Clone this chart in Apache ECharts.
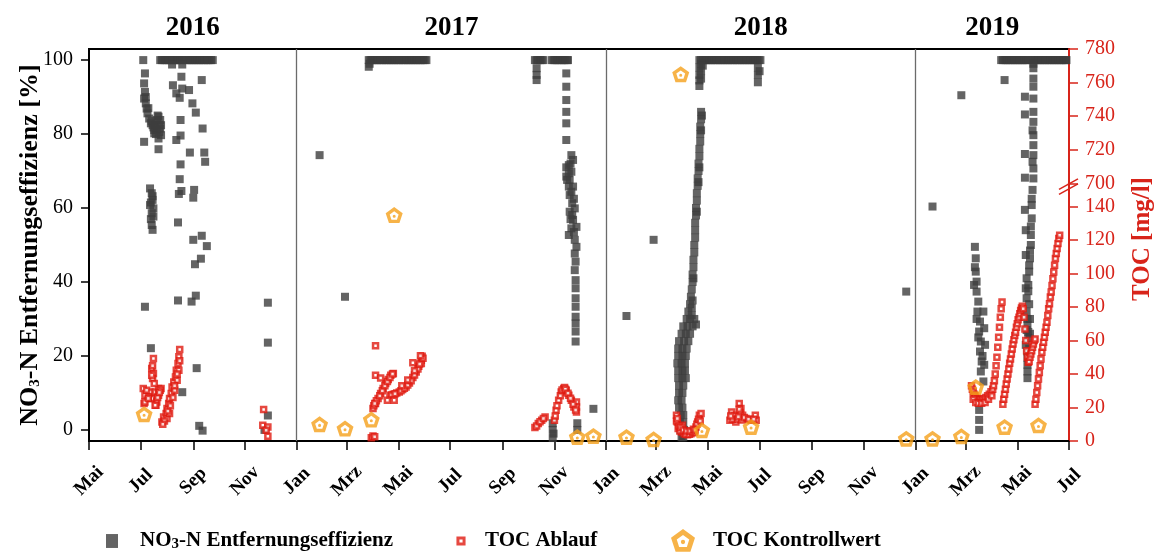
<!DOCTYPE html>
<html><head><meta charset="utf-8">
<script src="https://cdn.jsdelivr.net/npm/echarts@6/dist/echarts.min.js"></script>
<style>html,body{margin:0;padding:0;background:#fff}#c{width:1159px;height:556px}</style>
</head><body><div id="c"></div>
<script>
// ---------- tick labels / categories ----------
const xTickDates = ['2016-05-01','2016-07-01','2016-09-01','2016-11-01','2017-01-01','2017-03-01','2017-05-01','2017-07-01','2017-09-01','2017-11-01','2018-01-01','2018-03-01','2018-05-01','2018-07-01','2018-09-01','2018-11-01','2019-01-01','2019-03-01','2019-05-01','2019-07-01'];
const xTickLabels = ['Mai','Jul','Sep','Nov','Jan','Mrz','Mai','Jul','Sep','Nov','Jan','Mrz','Mai','Jul','Sep','Nov','Jan','Mrz','Mai','Jul'];
const leftTicks = [0,20,40,60,80,100];
const tocLowTicks = [0,20,40,60,80,100,120,140];
const tocHighTicks = [700,720,740,760,780];
const yearLabels = ['2016','2017','2018','2019'];
const yearSpans = [['2016-05-01','2017-01-01'],['2017-01-01','2018-01-01'],['2018-01-01','2019-01-01'],['2019-01-01','2019-07-01']];
const yearSeparators = ['2017-01-01','2018-01-01','2019-01-01'];
const NAME_NO3 = 'NO3-N Entfernungseffizienz';
const NAME_TOC = 'TOC Ablauf';
const NAME_KW = 'TOC Kontrollwert';

// ---------- NO3-N Entfernungseffizienz [%] ----------
const no3 = [
['2016-07-04',100],
['2016-07-24',100],['2016-07-26',100],['2016-07-28',100],['2016-07-30',100],['2016-08-01',100],['2016-08-03',100],['2016-08-05',100],['2016-08-07',100],['2016-08-09',100],['2016-08-11',100],['2016-08-13',100],['2016-08-15',100],['2016-08-17',100],['2016-08-19',100],
['2016-08-23',100],['2016-08-25',100],['2016-08-27',100],['2016-08-29',100],['2016-08-31',100],['2016-09-02',100],['2016-09-04',100],['2016-09-06',100],['2016-09-08',100],['2016-09-10',100],['2016-09-12',100],['2016-09-14',100],['2016-09-16',100],['2016-09-18',100],['2016-09-20',100],['2016-09-22',100],['2016-09-24',100],
['2016-08-07',98.8],['2016-08-19',98.8],
['2016-07-06',96.4],['2016-08-18',95.5],['2016-09-11',94.6],['2016-08-08',93.2],['2016-08-19',92.3],['2016-08-27',91.9],['2016-08-12',91],['2016-08-16',89.8],['2016-08-31',88.3],['2016-09-04',85.8],['2016-08-17',83.8],['2016-09-12',81.5],['2016-08-17',79.6],['2016-08-12',78.4],['2016-07-05',77.9],['2016-08-28',75],['2016-09-14',75],['2016-09-15',72.5],['2016-08-17',71.8],['2016-08-16',67.8],['2016-08-18',64.6],['2016-08-15',63.8],['2016-09-02',64.9],['2016-09-01',62.8],['2016-08-14',56.1],['2016-09-11',52.5],['2016-09-01',51.4],['2016-09-17',49.7],['2016-09-10',46.3],['2016-09-03',44.8],['2016-07-06',33.3],['2016-08-14',35],['2016-09-04',36.3],['2016-08-30',34.7],['2016-07-13',22.1],['2016-09-05',16.7],['2016-08-19',10.2],['2016-09-08',1.1],['2016-09-12',-0.2],
['2016-07-05',93.7],['2016-07-06',91.4],['2016-07-05',89.6],['2016-07-07',88.3],['2016-07-08',86.9],['2016-07-09',85.6],['2016-07-11',84.2],['2016-07-13',82.9],['2016-07-15',82.4],['2016-07-17',81.1],['2016-07-18',82.4],['2016-07-20',83.8],['2016-07-22',84.7],['2016-07-24',83.8],['2016-07-25',82.4],['2016-07-23',80.6],['2016-07-20',81.1],['2016-07-22',78.8],['2016-07-22',75.9],['2016-07-17',80.2],['2016-07-25',79.7],['2016-07-14',83.5],['2016-07-19',80],['2016-07-23',82.5],['2016-07-21',85],['2016-07-24',81.5],['2016-07-16',81.8],['2016-07-07',90],['2016-07-10',87],
['2016-07-12',65.3],['2016-07-14',64],['2016-07-15',62.2],['2016-07-12',60.8],['2016-07-16',59.9],['2016-07-14',58.6],['2016-07-16',57.7],['2016-07-14',55.4],['2016-07-15',54.1],['2016-07-13',61.5],['2016-07-15',63.2],['2016-07-13',57],
['2016-11-28',34.4],['2016-11-28',23.6],['2016-11-28',3.9],['2016-11-24',0],
['2017-01-28',74.3],['2017-02-27',36],
['2017-03-27',100],['2017-03-29',100],['2017-03-31',100],['2017-04-02',100],['2017-04-04',100],['2017-04-06',100],['2017-04-08',100],['2017-04-10',100],['2017-04-12',100],['2017-04-14',100],['2017-04-16',100],['2017-04-18',100],['2017-04-20',100],['2017-04-22',100],['2017-04-24',100],['2017-04-26',100],['2017-04-28',100],['2017-04-30',100],
['2017-05-02',100],['2017-05-04',100],['2017-05-06',100],['2017-05-08',100],['2017-05-10',100],['2017-05-12',100],['2017-05-14',100],['2017-05-16',100],['2017-05-18',100],['2017-05-20',100],['2017-05-22',100],['2017-05-24',100],['2017-05-26',100],['2017-05-28',100],['2017-05-30',100],['2017-06-01',100],['2017-06-03',100],
['2017-03-27',98.2],['2017-03-28',99],
['2017-10-09',100],['2017-10-11',100],['2017-10-13',100],['2017-10-15',100],['2017-10-17',100],['2017-10-19',100],
['2017-10-29',100],['2017-10-31',100],['2017-11-02',100],['2017-11-04',100],['2017-11-06',100],['2017-11-08',100],['2017-11-10',100],['2017-11-12',100],['2017-11-14',100],['2017-11-16',100],['2017-11-17',100],
['2017-10-11',97.8],['2017-10-11',96],['2017-10-11',94.6],
['2017-11-15',96.4],['2017-11-15',92.8],['2017-11-15',89.2],['2017-11-15',86],['2017-11-15',82.9],['2017-11-15',78.4],
['2017-11-21',74.3],['2017-11-18',71.6],['2017-11-21',69.8],['2017-11-19',67.6],['2017-11-23',65.8],['2017-11-19',63.5],['2017-11-22',61.3],['2017-11-19',59],['2017-11-23',56.8],['2017-11-21',54.5],['2017-11-18',52.7],['2017-11-25',51.4],['2017-11-27',49.5],['2017-11-25',47.7],['2017-11-26',45.5],['2017-11-25',43.2],['2017-11-26',40.5],['2017-11-26',38.3],['2017-11-26',35.6],['2017-11-26',33.3],['2017-11-26',30.6],['2017-11-26',28.8],['2017-11-26',26.6],['2017-11-26',23.9],
['2017-11-15',71],['2017-11-15',68.5],['2017-11-16',67.6],['2017-11-21',64.4],['2017-11-25',59.9],['2017-11-22',58.1],['2017-11-27',54.9],['2017-11-18',69.4],['2017-11-23',73],['2017-11-18',65.8],['2017-11-20',72],['2017-11-24',62.5],['2017-11-20',57],['2017-11-24',53.5],
['2017-10-30',1.8],['2017-10-30',0],['2017-10-30',-2.2],['2017-10-31',-1],['2017-11-28',1.8],['2017-11-28',0],['2017-12-17',5.7],
['2018-01-25',30.8],['2018-02-26',51.4],['2018-12-21',37.4],
['2018-04-21',100],['2018-04-23',100],['2018-04-25',100],['2018-04-27',100],['2018-04-29',100],['2018-05-01',100],['2018-05-03',100],['2018-05-05',100],['2018-05-07',100],['2018-05-09',100],['2018-05-11',100],['2018-05-13',100],['2018-05-15',100],['2018-05-17',100],['2018-05-19',100],['2018-05-21',100],['2018-05-23',100],['2018-05-25',100],['2018-05-27',100],['2018-05-29',100],['2018-05-31',100],
['2018-06-02',100],['2018-06-04',100],['2018-06-06',100],['2018-06-08',100],['2018-06-10',100],['2018-06-12',100],['2018-06-14',100],['2018-06-16',100],['2018-06-18',100],['2018-06-20',100],['2018-06-22',100],['2018-06-24',100],['2018-06-26',100],['2018-06-28',100],['2018-06-30',100],['2018-07-02',100],
['2018-04-21',98],['2018-04-21',96],['2018-04-21',94.5],['2018-04-21',93],['2018-04-23',99],['2018-04-23',97],['2018-04-23',95],['2018-04-25',98.5],['2018-06-29',98],['2018-06-29',96],['2018-06-29',94],['2018-07-01',97],
['2018-04-23',86],['2018-04-24',85],['2018-04-23',84],['2018-04-22',82],['2018-04-23',81],['2018-04-22',80],['2018-04-22',78],['2018-04-21',76],['2018-04-21',74],['2018-04-20',72],['2018-04-21',71],['2018-04-20',70],['2018-04-19',68],['2018-04-20',67],['2018-04-19',66],['2018-04-18',64],['2018-04-18',62],['2018-04-17',60],['2018-04-18',59],['2018-04-17',58],['2018-04-16',56],['2018-04-16',54],['2018-04-16',52],['2018-04-15',50],['2018-04-15',48],['2018-04-14',46],['2018-04-14',44],['2018-04-13',42],['2018-04-14',41],['2018-04-13',40],['2018-04-12',38],['2018-04-11',36],['2018-04-13',35],['2018-04-10',34],['2018-04-12',33],['2018-04-08',32],['2018-04-12',31],
['2018-04-06',30],['2018-04-10',30],['2018-04-15',30],['2018-04-02',28],['2018-04-07',28],['2018-04-13',28],['2018-04-17',28.5],['2018-03-31',26],['2018-04-05',26],['2018-04-10',26],['2018-03-28',24],['2018-04-03',24],['2018-04-08',24],['2018-03-27',22],['2018-04-01',22],['2018-04-06',22],['2018-03-27',20],['2018-04-01',20],['2018-04-05',20],['2018-03-26',18],['2018-03-31',18],['2018-04-04',18],['2018-03-27',16],['2018-04-01',16],['2018-04-04',16],['2018-03-27',14],['2018-04-01',14],['2018-04-05',14],['2018-03-28',12],['2018-04-02',12],['2018-03-28',10],['2018-04-01',10],['2018-03-27',8],['2018-03-31',8],['2018-03-28',6],['2018-04-01',6],['2018-03-30',4],['2018-04-02',4],['2018-03-29',2],['2018-04-02',2],['2018-03-30',0],['2018-04-03',0],['2018-03-31',-2],['2018-04-02',-2],
['2019-01-21',60.4],['2019-02-24',90.5],['2019-04-16',94.6],
['2019-04-12',100],['2019-04-14',100],['2019-04-16',100],['2019-04-18',100],['2019-04-20',100],['2019-04-22',100],['2019-04-24',100],['2019-04-26',100],['2019-04-28',100],['2019-04-30',100],['2019-05-02',100],['2019-05-04',100],['2019-05-06',100],['2019-05-08',100],['2019-05-10',100],['2019-05-12',100],['2019-05-14',100],
['2019-05-18',100],['2019-05-20',100],['2019-05-22',100],['2019-05-24',100],['2019-05-26',100],['2019-05-28',100],['2019-05-30',100],['2019-06-01',100],['2019-06-03',100],['2019-06-05',100],['2019-06-07',100],['2019-06-09',100],['2019-06-11',100],['2019-06-13',100],['2019-06-15',100],['2019-06-17',100],['2019-06-19',100],['2019-06-21',100],['2019-06-23',100],['2019-06-25',100],['2019-06-27',100],['2019-06-28',100],
['2019-05-20',99],['2019-05-20',97.8],['2019-05-20',95],['2019-05-20',92.8],['2019-05-20',89.6],['2019-05-20',86],['2019-05-20',83.3],['2019-05-19',81],['2019-05-20',79.7],['2019-05-20',77],['2019-05-20',74.3],['2019-05-19',72.5],['2019-05-20',70.7],['2019-05-20',68],['2019-05-19',64.9],['2019-05-18',62.5],['2019-05-18',60.8],['2019-05-18',57.2],['2019-05-17',55],['2019-05-17',52.7],['2019-05-17',50],['2019-05-16',48.5],['2019-05-16',46.4],['2019-05-15',44.5],['2019-05-15',42.8],['2019-05-14',39.2],['2019-05-14',37.5],['2019-05-12',35.6],['2019-05-15',34],['2019-05-12',32],['2019-05-16',30],['2019-05-13',30],['2019-05-13',28.4],['2019-05-14',26.5],['2019-05-16',26],['2019-05-14',24.8],['2019-05-15',22],['2019-05-13',21.2],['2019-05-13',19.5],['2019-05-13',17.6],['2019-05-13',15.8],['2019-05-13',14],['2019-05-12',27],['2019-05-11',23],
['2019-05-10',90.1],['2019-05-10',85.3],['2019-05-10',74.6],['2019-05-10',68.2],['2019-05-10',59.5],['2019-05-11',54],['2019-05-11',47.3],['2019-05-12',41],['2019-05-11',38.3],
['2019-03-12',49.5],['2019-03-13',46.4],['2019-03-13',42.8],['2019-03-14',40.1],['2019-03-14',37.4],['2019-03-16',34.7],['2019-03-15',32],['2019-03-18',29.3],['2019-03-17',26.6],['2019-03-19',23.9],['2019-03-18',21.2],['2019-03-20',18.5],['2019-03-19',15.8],['2019-03-22',13.1],['2019-03-22',32],['2019-03-23',27.5],['2019-03-24',23],['2019-03-23',17.6],['2019-03-11',39.2],['2019-03-12',44],['2019-03-14',30],['2019-03-16',25],['2019-03-21',20],
['2019-03-17',5.4],['2019-03-17',2.7],['2019-03-17',0]
];

// ---------- TOC Ablauf [mg/l] ----------
const tocAblauf = [
['2016-07-04',31.4],['2016-07-06',27.3],['2016-07-05',22.4],['2016-07-12',29.3],['2016-07-14',25.4],['2016-07-16',49.3],['2016-07-14',43.3],['2016-07-16',40.3],['2016-07-15',37.3],['2016-07-14',39.3],['2016-07-18',29.3],['2016-07-20',23.3],['2016-07-22',31.4],['2016-07-25',31.4],['2016-07-22',27.3],['2016-07-19',21.4],['2016-07-10',26.3],['2016-07-08',30.3],['2016-07-17',34.3],['2016-07-24',30.3],['2016-07-06',23.3],['2016-07-18',21.4],['2016-07-10',25.4],['2016-07-15',45],['2016-07-21',26],['2016-07-23',29],
['2016-07-26',11.4],['2016-07-28',14.4],['2016-07-31',16.4],['2016-08-01',19.4],['2016-08-03',22.4],['2016-08-04',25.4],['2016-08-06',28.4],['2016-08-07',32.3],['2016-08-09',35.3],['2016-08-11',38.3],['2016-08-12',42.3],['2016-08-14',46.3],['2016-08-15',50.3],['2016-08-16',54.7],['2016-08-01',13.4],['2016-08-04',16.4],['2016-08-10',30.3],['2016-08-13',36.3],['2016-08-15',42.3],['2016-07-29',12],['2016-08-02',18],['2016-08-05',21],['2016-08-08',26],['2016-08-10',33],['2016-08-13',40],['2016-08-16',48],['2016-07-27',10],
['2016-11-23',18.8],['2016-11-22',9.4],['2016-11-28',8.4],['2016-11-26',6.4],['2016-11-28',2.8],
['2017-03-30',2],['2017-04-01',3],['2017-04-03',2.5],
['2017-04-01',19.4],['2017-04-04',22.4],['2017-04-07',25.4],['2017-04-10',28.4],['2017-04-13',31.4],['2017-04-16',34.3],['2017-04-19',36.7],['2017-04-22',39.3],['2017-04-25',40.3],
['2017-04-02',21],['2017-04-05',24],['2017-04-09',27],['2017-04-12',30],['2017-04-15',33],['2017-04-18',35.5],['2017-04-21',38],['2017-04-24',40],
['2017-04-21',27.3],['2017-04-25',27.9],['2017-04-29',28.7],['2017-05-02',29.3],['2017-05-06',30.8],['2017-05-10',32.3],['2017-05-14',34.7],['2017-05-18',37.9],['2017-05-22',41.3],['2017-05-25',44.7],['2017-05-28',48.3],['2017-05-29',50.7],['2017-05-18',46.7],['2017-05-28',46.3],
['2017-04-23',27.5],['2017-04-27',28.2],['2017-05-04',30],['2017-05-08',31.5],['2017-05-12',33.5],['2017-05-16',36],['2017-05-20',39.5],['2017-05-24',43],['2017-05-26',46],['2017-05-30',49.5],['2017-05-05',33],['2017-05-12',36.5],['2017-05-20',42],['2017-05-27',51],
['2017-04-04',56.9],['2017-04-04',39.3],['2017-04-10',37.7],['2017-04-18',24.4],['2017-04-26',24.4],['2017-04-03',22.4],
['2017-10-09',8],['2017-10-13',10.4],['2017-10-17',12.4],['2017-10-21',14.4],['2017-10-11',9],['2017-10-15',11.5],['2017-10-19',13.5],
['2017-11-01',12.4],['2017-11-03',18.4],['2017-11-06',24.4],['2017-11-09',29.3],['2017-11-12',31.4],['2017-11-15',30.3],['2017-11-18',27.3],['2017-11-21',24.4],['2017-11-24',20.3],['2017-11-27',17.4],['2017-11-27',23.3],['2017-11-27',20.3],['2017-11-02',15],['2017-11-04',21],['2017-11-08',27],['2017-11-10',30.5],['2017-11-13',32],['2017-11-14',31],['2017-11-17',28.5],['2017-11-20',25.5],['2017-11-23',22],['2017-11-26',18.5],
['2018-03-25',15.4],['2018-03-26',11.4],['2018-03-27',7.4],['2018-03-31',5.4],['2018-04-03',4.4],['2018-04-07',3.8],['2018-04-11',4.4],['2018-04-15',5.4],['2018-04-17',8.4],['2018-04-19',11.4],['2018-04-21',15.4],['2018-04-23',16.4],['2018-04-01',9.4],['2018-03-25',12],['2018-03-29',6],['2018-04-05',4],['2018-04-09',4],['2018-04-13',5],['2018-04-18',10],['2018-04-20',13],['2018-03-28',9],['2018-04-22',12],['2018-03-26',13.5],['2018-03-30',8],['2018-04-02',6.5],['2018-04-06',6],['2018-04-10',6],['2018-04-14',7],['2018-04-16',6.5],
['2018-05-27',12.4],['2018-05-29',17.4],['2018-06-01',15.4],['2018-06-07',22.4],['2018-06-09',19.4],['2018-06-11',15.4],['2018-06-15',13.4],['2018-06-21',12.4],['2018-06-26',15.4],['2018-06-27',12.4],['2018-06-03',11.4],['2018-05-30',13],['2018-06-05',13],['2018-06-08',17],['2018-06-10',12.5],['2018-06-13',14],['2018-06-18',13],['2018-06-24',13],['2018-06-07',19],['2018-06-06',14.5],['2018-05-28',15],
['2019-03-08',33],['2019-03-09',31],['2019-03-10',29.5],['2019-03-11',28],['2019-03-12',27],['2019-03-13',26],['2019-03-15',25.2],['2019-03-17',24.8],['2019-03-19',24.8],['2019-03-21',25],['2019-03-23',25.4],['2019-03-25',26],['2019-03-27',27],['2019-03-29',28],['2019-03-31',29.5],['2019-04-02',31],['2019-04-03',33],['2019-04-04',36],['2019-04-05',40],['2019-04-06',45],['2019-04-07',50],['2019-04-08',56],['2019-04-09',62],['2019-04-10',68],['2019-04-11',74],['2019-04-12',79],['2019-04-13',83],
['2019-03-10',25],['2019-03-13',23],['2019-03-16',22.5],['2019-03-20',22.5],['2019-03-24',23],['2019-03-28',25],['2019-04-01',27],
['2019-04-14',22],['2019-04-15',25],['2019-04-16',28],['2019-04-17',31],['2019-04-18',34],['2019-04-19',37],['2019-04-20',40],['2019-04-21',43],['2019-04-22',46.5],['2019-04-23',49],['2019-04-24',52],['2019-04-25',55],['2019-04-26',58],['2019-04-27',60.5],['2019-04-28',63],['2019-04-29',65],['2019-04-30',68],['2019-05-01',70],['2019-05-02',72.5],['2019-05-03',74],['2019-05-04',76],['2019-05-05',78],['2019-05-06',79.5],['2019-05-07',80.5],
['2019-05-08',79],['2019-05-09',74],['2019-05-10',67],['2019-05-11',60],['2019-05-12',54],['2019-05-13',50],['2019-05-14',47],['2019-05-15',47.5],['2019-05-16',50],['2019-05-17',52],['2019-05-18',54],['2019-05-19',56],['2019-05-20',58],['2019-05-21',60],['2019-05-22',61],
['2019-05-22',22],['2019-05-23',25],['2019-05-24',29],['2019-05-25',33],['2019-05-26',37],['2019-05-27',41],['2019-05-28',45],['2019-05-29',49],['2019-05-30',53],['2019-05-31',56],['2019-06-01',59],['2019-06-02',62],['2019-06-03',65],['2019-06-04',68],['2019-06-05',71],['2019-06-06',75],['2019-06-07',79],['2019-06-08',82],['2019-06-09',86],['2019-06-10',89],['2019-06-11',93],['2019-06-12',97],['2019-06-13',101],['2019-06-14',105],['2019-06-15',109],['2019-06-16',112],['2019-06-17',115],['2019-06-18',118],['2019-06-19',121],['2019-06-20',123]
];

// ---------- TOC Kontrollwert [mg/l] ----------
const tocKontroll = [
['2016-07-05',16],['2017-01-28',10],['2017-02-27',7.4],['2017-03-30',12.8],['2017-04-26',135],['2017-11-28',2.4],['2017-12-17',3],
['2018-01-25',2.4],['2018-02-26',1],['2018-03-30',765],['2018-04-24',6.4],['2018-06-21',8.4],['2018-12-21',1.4],
['2019-01-21',1.4],['2019-02-24',2.8],['2019-03-13',32.3],['2019-04-16',8.4],['2019-05-26',9.4]
];

// axis break of the TOC axis: lower part 0..154, upper part 700..780
const tocLowMax = 154, tocHighMin = 700, tocHighMax = 780;

// ---------- build ----------
const ts = s => { const p = s.split('-').map(Number); return Date.UTC(p[0], p[1]-1, p[2]); };
const pts = arr => arr.map(d => [ts(d[0]), d[1]]);
const xTicks = xTickDates.map(ts);
const xMin = xTicks[0], xMax = xTicks[xTicks.length-1];
const FONT = "'Liberation Serif', 'DejaVu Serif', serif";
const RED = '#d8241a', MRED = '#e01a10', ORANGE = '#f5a01a', DARK = '#3d3d3d';
const PENTA = 'path://M10 0L19.51 6.91L15.88 18.09L4.12 18.09L0.49 6.91ZM10 4.8L5.05 8.39L6.94 14.21L13.06 14.21L14.95 8.39ZM8.3 10.3A1.7 1.7 0 1 0 11.7 10.3A1.7 1.7 0 1 0 8.3 10.3Z';
const ICON_SQ = 'path://M0 0M20 20M5 4.2h10v11.6h-10z';
const ICON_RING = 'path://M0 0M20 20M6.2 6.2h7.6v7.6h-7.6zM8.7 8.7v2.6h2.6v-2.6z';
const subRich = { s: { fontSize: 15, fontWeight: 'bold', fontFamily: FONT, verticalAlign: 'bottom', lineHeight: 8 } };

const kwLow = tocKontroll.filter(d => d[1] <= tocLowMax);
const kwHigh = tocKontroll.filter(d => d[1] >= tocHighMin);

const hiddenX = i => ({ type: 'value', gridIndex: i, min: xMin, max: xMax, show: false });
const monthLabel = v => { let bi = 0, bd = Infinity; xTicks.forEach((t, i) => { const d = Math.abs(t - v); if (d < bd) { bd = d; bi = i; } }); return xTickLabels[bi]; };

const option = {
  animation: false,
  backgroundColor: '#fff',
  textStyle: { fontFamily: FONT },
  grid: [
    { left: 89, right: 90, top: 49, bottom: 115, show: true, borderColor: '#000', borderWidth: 2, outerBoundsMode: 'none', containLabel: false },
    { left: 89, right: 90, top: 49, bottom: 372.7, outerBoundsMode: 'none', containLabel: false },
    { left: 89, right: 90, top: 183.3, bottom: 115, outerBoundsMode: 'none', containLabel: false }
  ],
  xAxis: [
    { type: 'value', gridIndex: 0, min: xMin, max: xMax, position: 'bottom',
      axisLine: { onZero: false, lineStyle: { color: '#000', width: 2 } },
      axisTick: { show: true, customValues: xTicks, length: 9, lineStyle: { color: '#000', width: 1.5 } },
      splitLine: { show: false },
      axisLabel: { customValues: xTicks, rotate: 45, align: 'center', verticalAlign: 'middle', margin: 40,
        fontSize: 19, fontWeight: 'bold', color: '#000', fontFamily: FONT, formatter: monthLabel } },
    hiddenX(1), hiddenX(2)
  ],
  yAxis: [
    { type: 'value', gridIndex: 0, position: 'left', min: -3, max: 103,
      axisLine: { show: true, onZero: false, lineStyle: { color: '#000', width: 2 } },
      axisTick: { show: true, customValues: leftTicks, length: 8, lineStyle: { color: '#000', width: 1.5 } },
      axisLabel: { customValues: leftTicks, margin: 16, fontSize: 20, color: '#000', fontFamily: FONT },
      splitLine: { show: false },
      name: 'NO{s|3}-N Entfernungseffizienz [%]', nameLocation: 'middle', nameGap: 46, nameMoveOverlap: false,
      nameTextStyle: { fontSize: 26, fontWeight: 'bold', color: '#000', fontFamily: FONT, rich: subRich } },
    { type: 'value', gridIndex: 0, position: 'right', min: 0, max: 1,
      axisLine: { show: false, onZero: false }, axisTick: { show: false }, axisLabel: { show: false }, splitLine: { show: false },
      name: 'TOC [mg/l]', nameLocation: 'middle', nameGap: 61,
      nameTextStyle: { fontSize: 25, fontWeight: 'bold', color: RED, fontFamily: FONT, padding: [0, 0, 0, 12] } },
    { type: 'value', gridIndex: 1, position: 'right', min: tocHighMin, max: tocHighMax,
      axisLine: { show: true, onZero: false, lineStyle: { color: RED, width: 2 } },
      axisTick: { show: true, customValues: tocHighTicks, length: 9, lineStyle: { color: RED, width: 1.5 } },
      axisLabel: { customValues: tocHighTicks, margin: 16, fontSize: 20, color: RED, fontFamily: FONT },
      splitLine: { show: false } },
    { type: 'value', gridIndex: 2, position: 'right', min: 0, max: tocLowMax,
      axisLine: { show: true, onZero: false, lineStyle: { color: RED, width: 2 } },
      axisTick: { show: true, customValues: tocLowTicks, length: 9, lineStyle: { color: RED, width: 1.5 } },
      axisLabel: { customValues: tocLowTicks, margin: 16, fontSize: 20, color: RED, fontFamily: FONT },
      splitLine: { show: false } }
  ],
  legend: [
    { left: 95, top: 524, itemWidth: 24, itemHeight: 24, selectedMode: false,
      data: [{ name: NAME_NO3, icon: ICON_SQ, itemStyle: { color: DARK, borderWidth: 0 } }],
      formatter: () => 'NO{s|3}-N Entfernungseffizienz',
      textStyle: { fontSize: 21, fontWeight: 'bold', color: '#000', fontFamily: FONT, padding: [0, 0, 0, 11], rich: subRich } },
    { left: 444, top: 524, itemWidth: 24, itemHeight: 24, selectedMode: false,
      data: [{ name: NAME_TOC, icon: ICON_RING, itemStyle: { color: MRED, borderWidth: 0 } }],
      textStyle: { fontSize: 21, fontWeight: 'bold', color: '#000', fontFamily: FONT, padding: [0, 0, 0, 7] } },
    { left: 666, top: 524, itemWidth: 24, itemHeight: 24, selectedMode: false,
      data: [{ name: NAME_KW, icon: PENTA, itemStyle: { color: ORANGE, borderWidth: 0 } }],
      textStyle: { fontSize: 21, fontWeight: 'bold', color: '#000', fontFamily: FONT, padding: [0, 0, 0, 13] } }
  ],
  graphic: [
    { type: 'line', silent: true, z: 100, shape: { x1: 1059, y1: 189.4, x2: 1078, y2: 178.9 }, style: { stroke: RED, lineWidth: 1.5 } },
    { type: 'line', silent: true, z: 100, shape: { x1: 1059, y1: 194.4, x2: 1078, y2: 183.9 }, style: { stroke: RED, lineWidth: 1.5 } }
  ],
  series: [
    { name: NAME_NO3, type: 'scatter', xAxisIndex: 0, yAxisIndex: 0, symbol: 'rect', symbolSize: 8,
      itemStyle: { color: DARK }, z: 2, data: pts(no3),
      markLine: { silent: true, symbol: ['none', 'none'], label: { show: false },
        lineStyle: { color: '#6b6b6b', width: 1.3, type: 'solid' },
        data: yearSeparators.map(d => ({ xAxis: ts(d) })) },
      markArea: { silent: true, itemStyle: { color: 'rgba(0,0,0,0)' },
        label: { show: true, position: 'top', distance: 7, fontSize: 27, fontWeight: 'bold', color: '#000', fontFamily: FONT },
        data: yearSpans.map((s, i) => [{ xAxis: ts(s[0]), name: yearLabels[i] }, { xAxis: ts(s[1]) }]) } },
    { name: NAME_TOC, type: 'scatter', xAxisIndex: 2, yAxisIndex: 3, symbol: 'rect', symbolSize: 5,
      itemStyle: { color: '#fff', borderColor: MRED, borderWidth: 2.5 }, z: 3, data: pts(tocAblauf) },
    { name: NAME_KW, type: 'scatter', xAxisIndex: 2, yAxisIndex: 3, symbol: PENTA, symbolSize: [17, 16],
      itemStyle: { color: ORANGE }, z: 4, data: pts(kwLow) },
    { name: NAME_KW, type: 'scatter', xAxisIndex: 1, yAxisIndex: 2, symbol: PENTA, symbolSize: [17, 16],
      itemStyle: { color: ORANGE }, z: 4, data: pts(kwHigh) }
  ]
};
const chart = echarts.init(document.getElementById('c'), null, { renderer: 'canvas' });
chart.setOption(option);
</script>
</body></html>
